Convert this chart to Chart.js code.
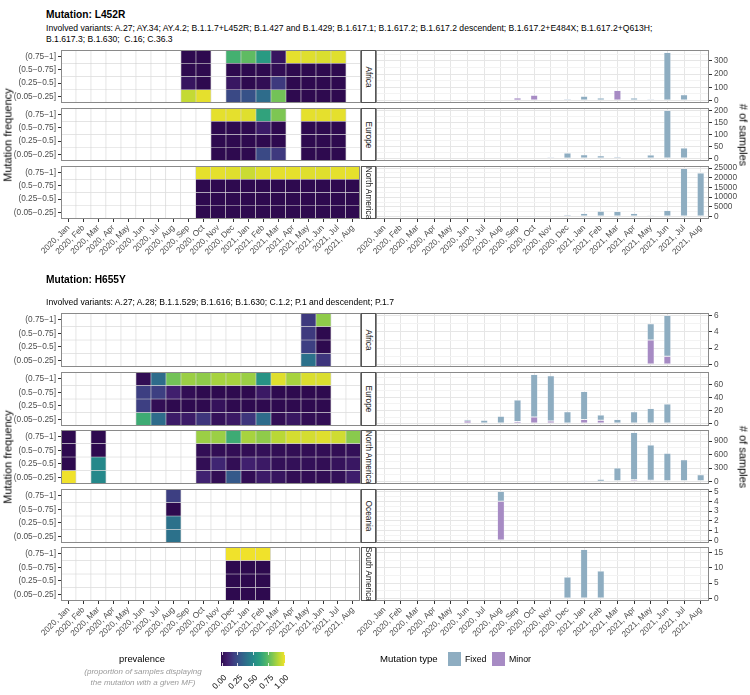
<!DOCTYPE html>
<html><head><meta charset="utf-8">
<script src="https://cdn.jsdelivr.net/npm/chart.js@4.4.0/dist/chart.umd.min.js"></script>
<style>
html,body{margin:0;padding:0;background:#fff;}
#root{position:relative;width:750px;height:695px;overflow:hidden;font-family:'Liberation Sans',Arial,Helvetica,sans-serif;color:#000;background:#fff;}
canvas{position:absolute;}
.t{position:absolute;white-space:pre;line-height:1;}
.strip{position:absolute;box-sizing:border-box;border:1px solid #555;background:#fff;}
</style></head><body><div id="root"></div>
<script>
// ---------------- DATA ----------------
const months = ["2020, Jan","2020, Feb","2020, Mar","2020, Apr","2020, May","2020, Jun","2020, Jul","2020, Aug","2020, Sep","2020, Oct","2020, Nov","2020, Dec","2021, Jan","2021, Feb","2021, Mar","2021, Apr","2021, May","2021, Jun","2021, Jul","2021, Aug"];
const mfBins = ["(0.75\u22121]","(0.5\u22120.75]","(0.25\u22120.5]","(0.05\u22120.25]"]; // top to bottom
const prevTicks = ["0.00","0.25","0.50","0.75","1.00"];
const _ = null;

// L452R prevalence (rows: (0.75-1], (0.5-0.75], (0.25-0.5], (0.05-0.25])
const L452R_Africa = [
 [_,_,_,_,_,_,_,_,0.00,0.00,_,0.68,0.74,0.58,0.05,0.98,0.97,0.96,0.97,_],
 [_,_,_,_,_,_,_,_,0.00,0.00,_,0.00,0.00,0.00,0.02,0.00,0.00,0.00,0.00,_],
 [_,_,_,_,_,_,_,_,0.05,0.00,_,0.06,0.00,0.02,0.18,0.00,0.00,0.00,0.00,_],
 [_,_,_,_,_,_,_,_,0.92,0.98,_,0.24,0.27,0.38,0.78,0.00,0.00,0.00,0.00,_]];
const L452R_Europe = [
 [_,_,_,_,_,_,_,_,_,_,0.98,0.98,0.97,0.62,0.80,_,0.98,0.98,0.98,_],
 [_,_,_,_,_,_,_,_,_,_,0.00,0.00,0.00,0.08,0.00,_,0.00,0.00,0.00,_],
 [_,_,_,_,_,_,_,_,_,_,0.00,0.00,0.00,0.00,0.00,_,0.00,0.00,0.00,_],
 [_,_,_,_,_,_,_,_,_,_,0.00,0.00,0.00,0.24,0.18,_,0.00,0.00,0.00,_]];
const L452R_NorthAmerica = [
 [_,_,_,_,_,_,_,_,_,0.98,0.98,0.97,0.93,0.97,0.98,0.98,0.97,0.97,0.98,0.98],
 [_,_,_,_,_,_,_,_,_,0.00,0.00,0.00,0.00,0.00,0.00,0.00,0.00,0.00,0.00,0.00],
 [_,_,_,_,_,_,_,_,_,0.00,0.00,0.00,0.00,0.00,0.00,0.00,0.00,0.00,0.00,0.00],
 [_,_,_,_,_,_,_,_,_,0.00,0.00,0.00,0.00,0.00,0.00,0.00,0.00,0.00,0.00,0.00]];

// L452R sample counts
const L452R_Africa_fixed = [_,_,_,_,_,_,_,_,_,_,_,12,32,20,_,20,12,363,44,_];
const L452R_Africa_minor = [_,_,_,_,_,_,_,_,20,41,_,_,_,_,76,_,_,_,_,_];
const L452R_Europe_fixed = [_,_,_,_,_,_,_,_,_,_,7,23,16,12,8,_,15,200,44,_];
const L452R_Europe_minor = [_,_,_,_,_,_,_,_,_,_,_,_,_,_,_,_,_,_,_,_];
const L452R_NorthAmerica_fixed = [_,_,_,_,_,_,_,_,_,40,250,950,1650,2800,2650,1650,660,3100,24800,22500];
const L452R_NorthAmerica_minor = [_,_,_,_,_,_,_,_,_,_,_,_,_,_,_,_,_,_,_,_];

// H655Y prevalence
const H655Y_Africa = [
 [_,_,_,_,_,_,_,_,_,_,_,_,_,_,_,_,0.18,0.83,_,_],
 [_,_,_,_,_,_,_,_,_,_,_,_,_,_,_,_,0.18,0.00,_,_],
 [_,_,_,_,_,_,_,_,_,_,_,_,_,_,_,_,0.20,0.00,_,_],
 [_,_,_,_,_,_,_,_,_,_,_,_,_,_,_,_,0.40,0.17,_,_]];
const H655Y_Europe = [
 [_,_,_,_,_,0.02,0.38,0.78,0.85,0.83,0.87,0.87,0.85,0.55,0.97,0.87,0.96,0.96,_,_],
 [_,_,_,_,_,0.20,0.20,0.10,0.02,0.00,0.00,0.00,0.00,0.07,0.00,0.00,0.00,0.00,_,_],
 [_,_,_,_,_,0.20,0.02,0.00,0.00,0.00,0.04,0.00,0.00,0.00,0.00,0.00,0.00,0.00,_,_],
 [_,_,_,_,_,0.66,0.38,0.08,0.08,0.17,0.04,0.07,0.17,0.38,0.02,0.06,0.02,0.02,_,_]];
const H655Y_NorthAmerica = [
 [0.00,_,0.00,_,_,_,_,_,_,0.85,0.85,0.66,0.87,0.83,0.90,0.95,0.95,0.97,0.94,0.82],
 [0.00,_,0.00,_,_,_,_,_,_,0.02,0.02,0.02,0.02,0.03,0.02,0.02,0.02,0.02,0.02,0.03],
 [0.00,_,0.50,_,_,_,_,_,_,0.02,0.12,0.02,0.10,0.07,0.03,0.03,0.03,0.02,0.04,0.06],
 [1.00,_,0.50,_,_,_,_,_,_,0.11,0.02,0.30,0.02,0.08,0.05,0.02,0.02,0.02,0.03,0.09]];
const H655Y_Oceania = [
 [_,_,_,_,_,_,_,0.20,_,_,_,_,_,_,_,_,_,_,_,_],
 [_,_,_,_,_,_,_,0.00,_,_,_,_,_,_,_,_,_,_,_,_],
 [_,_,_,_,_,_,_,0.40,_,_,_,_,_,_,_,_,_,_,_,_],
 [_,_,_,_,_,_,_,0.40,_,_,_,_,_,_,_,_,_,_,_,_]];
const H655Y_SouthAmerica = [
 [_,_,_,_,_,_,_,_,_,_,_,1.00,1.00,1.00,_,_,_,_,_,_],
 [_,_,_,_,_,_,_,_,_,_,_,0.00,0.00,0.00,_,_,_,_,_,_],
 [_,_,_,_,_,_,_,_,_,_,_,0.00,0.00,0.00,_,_,_,_,_,_],
 [_,_,_,_,_,_,_,_,_,_,_,0.00,0.00,0.00,_,_,_,_,_,_]];

// H655Y sample counts
const H655Y_Africa_fixed = [_,_,_,_,_,_,_,_,_,_,_,_,_,_,_,_,2,5,_,_];
const H655Y_Africa_minor = [_,_,_,_,_,_,_,_,_,_,_,_,_,_,_,_,3,1,_,_];
const H655Y_Europe_fixed = [_,_,_,_,_,2,4,10,33,65,69,17,43,8,6,17,23,30,_,_];
const H655Y_Europe_minor = [_,_,_,_,_,4,1,1,3,10,4,1,6,5,_,1,_,_,_,_];
const H655Y_NorthAmerica_fixed = [_,_,_,_,_,_,_,_,_,18,13,10,23,45,285,1050,780,610,465,135];
const H655Y_NorthAmerica_minor = [12,_,10,_,_,_,_,_,_,2,2,5,2,5,15,40,30,20,20,15];
const H655Y_Oceania_fixed = [_,_,_,_,_,_,_,1,_,_,_,_,_,_,_,_,_,_,_,_];
const H655Y_Oceania_minor = [_,_,_,_,_,_,_,4,_,_,_,_,_,_,_,_,_,_,_,_];
const H655Y_SouthAmerica_fixed = [_,_,_,_,_,_,_,_,_,_,_,7,16,9,_,_,_,_,_,_];
const H655Y_SouthAmerica_minor = [_,_,_,_,_,_,_,_,_,_,_,_,_,_,_,_,_,_,_,_];

// tick label steps of the sample-count axes
const L452R_countSteps = [100, 50, 5000];
const H655Y_countSteps = [2, 20, 300, 1, 5];

// ---------------- STYLE / LAYOUT ----------------
const fixedColor = '#8eadc1', minorColor = '#a78bc4';
const vStops = [[0,'#2e0a4f'],[0.1,'#401f6e'],[0.2,'#3d3f82'],[0.3,'#35598a'],[0.4,'#2c718b'],[0.5,'#25888a'],[0.6,'#2a9e80'],[0.7,'#4bb46c'],[0.8,'#7dc653'],[0.9,'#b9d836'],[1,'#f0e22b']];
function h2r(h){return [parseInt(h.slice(1,3),16),parseInt(h.slice(3,5),16),parseInt(h.slice(5,7),16)];}
function viridis(v){
  v=Math.max(0,Math.min(1,v));
  for(let i=1;i<vStops.length;i++){
    if(v<=vStops[i][0]){
      const [a,ca]=vStops[i-1],[b,cb]=vStops[i];const t=(v-a)/(b-a);
      const A=h2r(ca),B=h2r(cb);
      return 'rgb('+A.map((x,k)=>Math.round(x+(B[k]-x)*t)).join(',')+')';
    }
  }
  return vStops[vStops.length-1][1];
}

Chart.defaults.font.family = "'Liberation Sans', Arial, Helvetica, sans-serif";
const root = document.getElementById('root');
const panelBorder = {id:'panelBorder', afterDraw(chart){
  const {ctx, chartArea:a} = chart; ctx.save(); ctx.strokeStyle='#8a8a8a'; ctx.lineWidth=1;
  ctx.strokeRect(Math.round(a.left)+0.5, Math.round(a.top)+0.5, Math.round(a.right-a.left)-1, Math.round(a.bottom-a.top)-1); ctx.restore();
}};
function mkCanvas(x,y,w,h){const c=document.createElement('canvas');c.width=w;c.height=h;c.style.left=x+'px';c.style.top=y+'px';c.style.width=w+'px';c.style.height=h+'px';root.appendChild(c);return c;}
function txt(s,x,y,o={}){
  const d=document.createElement('div');d.className='t';d.textContent=s;
  d.style.fontSize=(o.size||8.6)+'px'; if(o.bold)d.style.fontWeight='bold'; if(o.italic)d.style.fontStyle='italic';
  d.style.color=o.color||'#000'; d.style.left=x+'px'; d.style.top=y+'px';
  if(o.origin) d.style.transformOrigin=o.origin;
  const ax=(o.ax===undefined)?0:o.ax;
  d.style.transform='translate('+(-ax*100)+'%,-50%)'+(o.rot?' rotate('+o.rot+'deg)':'');
  if(o.align) d.style.textAlign=o.align;
  root.appendChild(d); return d;
}
const tickFont = {size:8.3};
const XH = 44;

function heatChart(rows, top, h, showX){
  const padB = showX?0:8, xh = showX?XH:0;
  const cv = mkCanvas(0, top-8, 361, 8+h+xh+padB);
  const datasets = rows.map((vals,i)=>({
    data: months.map(()=>[3-i-0.5, 3-i+0.5]),
    backgroundColor: vals.map(v=>v==null?'#ffffff':viridis(v)),
    borderColor:'#d4d4d4', borderWidth:0.6, borderSkipped:false,
    barPercentage:1, categoryPercentage:1
  }));
  new Chart(cv,{type:'bar',data:{labels:months,datasets},
    options:{responsive:false,animation:false,devicePixelRatio:1,
      layout:{padding:{left:0,right:0,top:8,bottom:padB}},
      plugins:{legend:{display:false},tooltip:{enabled:false}},
      scales:{
        x:{stacked:true,display:showX,offset:true,
           grid:{display:true,drawOnChartArea:false,offset:false,tickLength:3,tickColor:'#333'},
           border:{display:false},
           ticks:{autoSkip:false,maxRotation:45,minRotation:45,padding:1,color:'#4d4d4d',font:tickFont},
           afterFit:s=>{s.height=xh;}},
        y:{type:'linear',min:-0.5,max:3.5,stacked:false,
           afterBuildTicks:s=>{s.ticks=[0,1,2,3].map(v=>({value:v}));},
           ticks:{callback:v=>mfBins[3-v],color:'#4d4d4d',font:tickFont,padding:2,autoSkip:false},
           grid:{drawOnChartArea:false,tickLength:3,tickColor:'#333'},
           border:{display:false},
           afterFit:s=>{s.width=61;}}
      }},
    plugins:[panelBorder]});
}

function barChart(fixed, minor, step, top, h, showX){
  const padB = showX?0:8, xh = showX?XH:0;
  const cv = mkCanvas(330, top-8, 420, 8+h+xh+padB);
  const totals = months.map((m,i)=>(fixed[i]||0)+(minor[i]||0));
  const M = Math.max(...totals);
  const isMajor = v => Math.abs(v/step-Math.round(v/step))<1e-6;
  new Chart(cv,{type:'bar',data:{labels:months,datasets:[
      {label:'Minor',data:minor,backgroundColor:minorColor,borderColor:'rgba(235,235,245,0.9)',borderWidth:0.5,borderSkipped:false},
      {label:'Fixed',data:fixed,backgroundColor:fixedColor,borderColor:'rgba(235,240,245,0.9)',borderWidth:0.5,borderSkipped:false}]},
    options:{responsive:false,animation:false,devicePixelRatio:1,
      datasets:{bar:{barPercentage:0.42,categoryPercentage:1}},
      layout:{padding:{left:46,right:0,top:8,bottom:padB}},
      plugins:{legend:{display:false},tooltip:{enabled:false}},
      scales:{
        x:{stacked:true,offset:true,
           grid:{color:'#e6e6e6',offset:false,drawTicks:showX,tickLength:3,tickColor:'#333'},
           border:{display:false},
           ticks:{display:showX,autoSkip:false,maxRotation:45,minRotation:45,padding:1,color:'#4d4d4d',font:tickFont},
           afterFit:s=>{s.height=xh;}},
        y:{stacked:true,position:'right',min:-0.05*M,max:1.05*M,
           afterBuildTicks:s=>{const t=[];for(let v=0;v<=s.max+1e-9;v+=step/2)t.push({value:v});s.ticks=t;},
           ticks:{callback:v=>isMajor(v)?String(Math.round(v)):'',color:'#4d4d4d',font:tickFont,padding:2,autoSkip:false},
           grid:{color:c=>isMajor(c.tick.value)?'#e6e6e6':'#f3f3f3',tickColor:c=>isMajor(c.tick.value)?'#333':'rgba(0,0,0,0)',tickLength:3},
           border:{display:false},
           afterFit:s=>{s.width=41;}}
      }},
    plugins:[panelBorder]});
}

function strip(label, top, h){
  const d=document.createElement('div');d.className='strip';
  d.style.left='361px';d.style.top=top+'px';d.style.width='15px';d.style.height=h+'px';root.appendChild(d);
  txt(label, 368.5, top+h/2, {size:8.3, ax:0.5, rot:90, color:'#1a1a1a'});
}

// ---------------- TOP: L452R ----------------
txt('Mutation: L452R', 46, 15, {size:10.2, bold:true});
txt('Involved variants: A.27; AY.34; AY.4.2; B.1.1.7+L452R; B.1.427 and B.1.429; B.1.617.1; B.1.617.2; B.1.617.2 descendent; B.1.617.2+E484X; B.1.617.2+Q613H;', 46, 27.5, {size:8.6});
txt('B.1.617.3; B.1.630;  C.16; C.36.3', 46, 38.5, {size:8.6});
const topRows = [
  ['Africa', L452R_Africa, L452R_Africa_fixed, L452R_Africa_minor],
  ['Europe', L452R_Europe, L452R_Europe_fixed, L452R_Europe_minor],
  ['North America', L452R_NorthAmerica, L452R_NorthAmerica_fixed, L452R_NorthAmerica_minor]];
const topTops = [50,108,166], topH = 53;
topRows.forEach((r,i)=>{
  const last = i===topRows.length-1;
  heatChart(r[1], topTops[i], topH, last);
  barChart(r[2], r[3], L452R_countSteps[i], topTops[i], topH, last);
  strip(r[0], topTops[i], topH);
});
txt('Mutation frequency', 8, 135, {size:11, ax:0.5, rot:-90});
txt('# of samples', 743, 135, {size:11, ax:0.5, rot:90});

// ---------------- BOTTOM: H655Y ----------------
txt('Mutation: H655Y', 46, 280, {size:10.2, bold:true});
txt('Involved variants: A.27; A.28; B.1.1.529; B.1.616; B.1.630; C.1.2; P.1 and descendent; P.1.7', 46, 302, {size:8.6});
const botRows = [
  ['Africa', H655Y_Africa, H655Y_Africa_fixed, H655Y_Africa_minor],
  ['Europe', H655Y_Europe, H655Y_Europe_fixed, H655Y_Europe_minor],
  ['North America', H655Y_NorthAmerica, H655Y_NorthAmerica_fixed, H655Y_NorthAmerica_minor],
  ['Oceania', H655Y_Oceania, H655Y_Oceania_fixed, H655Y_Oceania_minor],
  ['South America', H655Y_SouthAmerica, H655Y_SouthAmerica_fixed, H655Y_SouthAmerica_minor]];
const botTops = [313,372,430,489,547], botH = 54;
botRows.forEach((r,i)=>{
  const last = i===botRows.length-1;
  heatChart(r[1], botTops[i], botH, last);
  barChart(r[2], r[3], H655Y_countSteps[i], botTops[i], botH, last);
  strip(r[0], botTops[i], botH);
});
txt('Mutation frequency', 8, 457, {size:11, ax:0.5, rot:-90});
txt('# of samples', 743, 457, {size:11, ax:0.5, rot:90});

// ---------------- LEGENDS ----------------
txt('prevalence', 142, 659, {size:9.4, ax:0.5});
txt('(proportion of samples displaying', 143, 671.5, {size:8, ax:0.5, italic:true, color:'#9a9a9a'});
txt('the mutation with a given MF)', 143, 683, {size:8, ax:0.5, italic:true, color:'#9a9a9a'});
const cb = document.createElement('div');
cb.style.cssText='position:absolute;left:221px;top:652px;width:64px;height:14px;background:linear-gradient(to right,'+vStops.map(s=>s[1]+' '+(s[0]*100)+'%').join(',')+');';
root.appendChild(cb);
prevTicks.forEach((lab,k)=>{
  const x = 222 + k*15.5;
  ['652px','663px'].forEach(tp=>{const m=document.createElement('div');m.style.cssText='position:absolute;width:1px;height:3px;background:rgba(255,255,255,0.8);left:'+(x-0.5)+'px;top:'+tp;root.appendChild(m);});
  txt(lab, x+3, 676, {size:8.3, ax:1, rot:-45, origin:'100% 50%', color:'#000'});
});
txt('Mutation type', 380, 659, {size:9.6});
const sw1=document.createElement('div');sw1.style.cssText='position:absolute;left:448px;top:652px;width:13px;height:14px;background:'+fixedColor+';';root.appendChild(sw1);
txt('Fixed', 465, 659, {size:8.8});
const sw2=document.createElement('div');sw2.style.cssText='position:absolute;left:492px;top:652px;width:13px;height:14px;background:'+minorColor+';';root.appendChild(sw2);
txt('Minor', 509, 659, {size:8.8});
</script>
</body></html>
